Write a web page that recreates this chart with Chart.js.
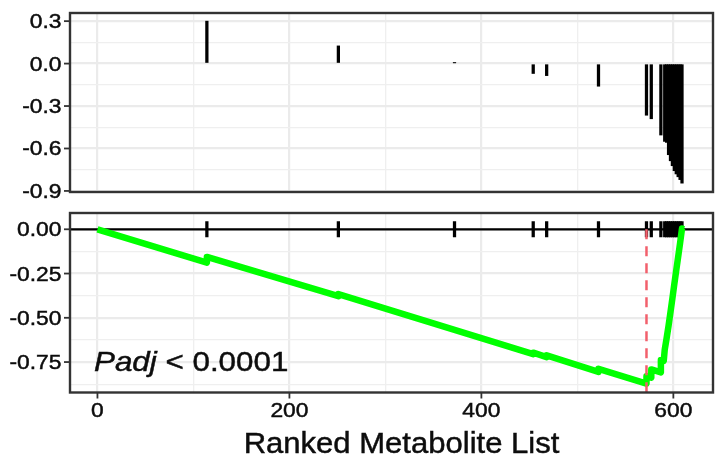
<!DOCTYPE html>
<html><head><meta charset="utf-8">
<script src="https://cdn.jsdelivr.net/npm/chart.js@4.4.1/dist/chart.umd.min.js"></script>
<style>
html,body{margin:0;padding:0;background:#fff;}
#wrap{position:relative;width:716px;height:465px;overflow:hidden;background:#fff;}
canvas{position:absolute;left:0;top:0;}
</style></head><body>
<div id="wrap"><canvas id="topChart" width="716" height="465"></canvas><canvas id="botChart" width="716" height="465"></canvas></div>
<script>
// ---------- data ----------
const hitRanks  = [114, 251, 372, 454, 468, 522, 572, 577, 587, 591, 593, 595, 597, 599, 601, 603, 605, 607, 609];
const hitScores = [0.30, 0.125, 0.005, -0.07, -0.085, -0.16, -0.365, -0.39, -0.505, -0.55, -0.557, -0.644, -0.687, -0.722, -0.757, -0.78, -0.80, -0.82, -0.845];

const esRanks  = [0, 114, 114, 251, 251, 372, 454, 454, 468, 468, 522, 522, 572, 572, 577, 577, 587, 587, 590, 591, 593, 595, 597, 599, 601, 603, 605, 607, 609, 611];
const esScores = [0, -0.188, -0.156, -0.378, -0.366, -0.568, -0.705, -0.697, -0.722, -0.712, -0.806, -0.788, -0.872, -0.830, -0.838, -0.792, -0.808, -0.738, -0.743, -0.680, -0.615, -0.545, -0.468, -0.390, -0.310, -0.232, -0.156, -0.078, 0.004, 0];

const leadingEdgeRank = 572;
const hitTickHalf = 0.043;

const xTicks = [0, 200, 400, 600];
const xTickLabels = ['0', '200', '400', '600'];
const xMinorTicks = [100, 300, 500];

const scoreTicks = [0.3, 0.0, -0.3, -0.6, -0.9];
const scoreTickLabels = ['0.3', '0.0', '-0.3', '-0.6', '-0.9'];
const scoreMinorTicks = [0.15, -0.15, -0.45, -0.75];

const esTicks = [0, -0.25, -0.5, -0.75];
const esTickLabels = ['0.00', '-0.25', '-0.50', '-0.75'];
const esMinorTicks = [-0.125, -0.375, -0.625, -0.875];

const xTitle = 'Ranked Metabolite List';
const padjItalic = 'Padj';
const padjRest = ' < 0.0001';

// axis ranges
const xRange = [-28.6, 641.3];
const scoreRange = [-0.9075, 0.3575];
const esRange = [-0.922, 0.092];

// ---------- styling helpers ----------
const FONT = '"Liberation Sans", Arial, Helvetica, sans-serif';
const SX = 1.17;
const MAJOR_GRID = '#EBEBEB', MINOR_GRID = '#EFEFEF';

function drawText(ctx, text, x, y, align, font, sx, color) {
  ctx.save();
  ctx.font = font;
  ctx.fillStyle = color || '#0d0d0d';
  ctx.strokeStyle = color || '#0d0d0d';
  ctx.lineWidth = 0.45;
  const w = ctx.measureText(text).width * sx;
  const x0 = align === 'right' ? x - w : (align === 'center' ? x - w / 2 : x);
  ctx.translate(x0, y);
  ctx.scale(sx, 1);
  ctx.textAlign = 'left';
  ctx.textBaseline = 'alphabetic';
  ctx.fillText(text, 0, 0);
  ctx.strokeText(text, 0, 0);
  ctx.restore();
  return w;
}

function gridOpts(majors) {
  const isMajor = c => c.tick && majors.some(m => Math.abs(m - c.tick.value) < 1e-9);
  return {
    offset: false,
    drawTicks: false,
    color: c => isMajor(c) ? MAJOR_GRID : MINOR_GRID,
    lineWidth: c => isMajor(c) ? 2.2 : 1.3
  };
}

function setTicks(list) {
  return s => { s.ticks = list.slice().sort((a, b) => a - b).map(v => ({ value: v })); };
}

function panelPlugin(yTicks, yLabels, withX) {
  return {
    id: 'panel',
    afterDraw(chart) {
      const ctx = chart.ctx;
      const a = chart.chartArea;
      const ys = chart.scales.y, xs = chart.scales.x;
      ctx.save();
      ctx.strokeStyle = '#333333';
      ctx.lineWidth = 1.8;
      yTicks.forEach((v, i) => {
        const py = ys.getPixelForValue(v);
        ctx.beginPath(); ctx.moveTo(a.left - 6, py); ctx.lineTo(a.left, py); ctx.stroke();
        drawText(ctx, yLabels[i], a.left - 8.5, py + 7, 'right', '19.5px ' + FONT, SX);
      });
      if (withX) {
        ctx.strokeStyle = '#333333';
        ctx.lineWidth = 1.8;
        xTicks.forEach((v, i) => {
          const px = xs.getPixelForValue(v);
          ctx.beginPath(); ctx.moveTo(px, a.bottom); ctx.lineTo(px, a.bottom + 6); ctx.stroke();
          drawText(ctx, xTickLabels[i], px, a.bottom + 24.5, 'center', '19.5px ' + FONT, SX);
        });
        drawText(ctx, xTitle, (a.left + a.right) / 2 + 10, 453, 'center', '29px ' + FONT, 1.07);
        const bx = a.left + 24, by = a.bottom - 22;
        const w1 = drawText(ctx, padjItalic, bx, by, 'left', 'italic 27.5px ' + FONT, 1.14);
        drawText(ctx, padjRest, bx + w1, by, 'left', '27.5px ' + FONT, 1.14);
      }
      ctx.strokeStyle = '#333333';
      ctx.lineWidth = 2.4;
      ctx.strokeRect(a.left, a.top, a.right - a.left, a.bottom - a.top);
      ctx.restore();
    }
  };
}

Chart.defaults.font.family = FONT;

// ---------- top panel: ranked scores of hits ----------
new Chart(document.getElementById('topChart'), {
  type: 'bar',
  data: {
    datasets: [{
      data: hitRanks.map((r, i) => ({ x: r, y: hitScores[i] })),
      backgroundColor: '#000000',
      borderWidth: 0,
      barThickness: 2.6
    }]
  },
  options: {
    responsive: false, animation: false, devicePixelRatio: 1,
    layout: { padding: { left: 0, right: 3, top: 13, bottom: 273 } },
    plugins: { legend: { display: false }, tooltip: { enabled: false } },
    scales: {
      x: {
        type: 'linear', min: xRange[0], max: xRange[1], offset: false,
        afterBuildTicks: setTicks(xTicks.concat(xMinorTicks)),
        ticks: { display: false },
        grid: gridOpts(xTicks),
        border: { display: false },
        afterFit: s => { s.height = 0; }
      },
      y: {
        type: 'linear', min: scoreRange[0], max: scoreRange[1],
        afterBuildTicks: setTicks(scoreTicks.concat(scoreMinorTicks)),
        ticks: { display: false },
        grid: gridOpts(scoreTicks),
        border: { display: false },
        afterFit: s => { s.width = 70; }
      }
    }
  },
  plugins: [panelPlugin(scoreTicks, scoreTickLabels, false)]
});

// ---------- bottom panel: running enrichment score ----------
new Chart(document.getElementById('botChart'), {
  type: 'line',
  data: {
    datasets: [
      {
        type: 'line', order: 0,
        data: [{ x: leadingEdgeRank, y: 0 }, { x: leadingEdgeRank, y: esRange[0] }],
        borderColor: '#F2606C', borderWidth: 2.5, borderDash: [10, 7],
        pointRadius: 0, fill: false
      },
      {
        type: 'line', order: 1,
        data: esRanks.map((r, i) => ({ x: r, y: esScores[i] })),
        borderColor: '#00FF00', borderWidth: 6.5,
        borderJoinStyle: 'round', borderCapStyle: 'butt',
        pointRadius: 0, fill: false, tension: 0
      },
      {
        type: 'bar', order: 2,
        data: hitRanks.map(r => ({ x: r, y: [-hitTickHalf, hitTickHalf] })),
        backgroundColor: '#000000', borderWidth: 0, barThickness: 2.6
      },
      {
        type: 'line', order: 3,
        data: [{ x: xRange[0], y: 0 }, { x: xRange[1], y: 0 }],
        borderColor: '#000000', borderWidth: 2.3, pointRadius: 0, fill: false
      }
    ]
  },
  options: {
    responsive: false, animation: false, devicePixelRatio: 1,
    layout: { padding: { left: 0, right: 3, top: 213, bottom: 72.5 } },
    plugins: { legend: { display: false }, tooltip: { enabled: false } },
    scales: {
      x: {
        type: 'linear', min: xRange[0], max: xRange[1], offset: false,
        afterBuildTicks: setTicks(xTicks.concat(xMinorTicks)),
        ticks: { display: false },
        grid: gridOpts(xTicks),
        border: { display: false },
        afterFit: s => { s.height = 0; }
      },
      y: {
        type: 'linear', min: esRange[0], max: esRange[1],
        afterBuildTicks: setTicks(esTicks.concat(esMinorTicks)),
        ticks: { display: false },
        grid: gridOpts(esTicks),
        border: { display: false },
        afterFit: s => { s.width = 70; }
      }
    }
  },
  plugins: [panelPlugin(esTicks, esTickLabels, true)]
});
</script>
</body></html>
